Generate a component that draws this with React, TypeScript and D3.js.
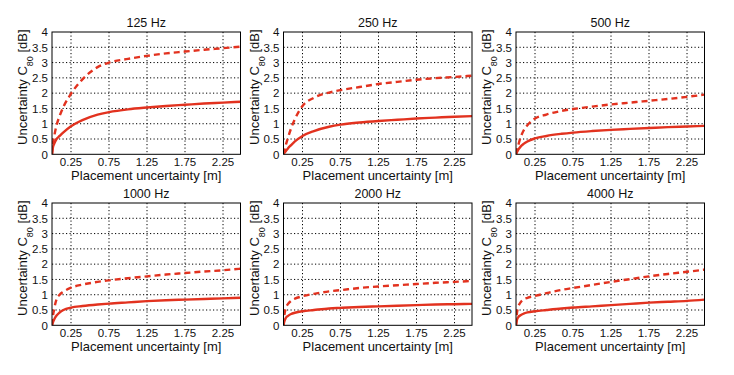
import React from "react";
import * as d3 from "d3";

const xs = [0, 0.01, 0.03, 0.06, 0.1, 0.15, 0.25, 0.4, 0.6, 0.75, 1.0, 1.25, 1.5, 1.75, 2.0, 2.25, 2.48];

const titles = ["125 Hz", "250 Hz", "500 Hz", "1000 Hz", "2000 Hz", "4000 Hz"];

const solid125 = [0, 0.2, 0.35, 0.5, 0.6, 0.72, 0.92, 1.12, 1.3, 1.38, 1.47, 1.53, 1.58, 1.62, 1.66, 1.69, 1.72];
const dashed125 = [0, 0.3, 0.6, 0.95, 1.25, 1.55, 1.98, 2.45, 2.85, 3.0, 3.12, 3.22, 3.3, 3.36, 3.42, 3.47, 3.52];
const solid250 = [0, 0.04, 0.1, 0.2, 0.3, 0.42, 0.6, 0.76, 0.9, 0.97, 1.04, 1.09, 1.13, 1.17, 1.2, 1.23, 1.25];
const dashed250 = [0, 0.1, 0.3, 0.55, 0.85, 1.15, 1.58, 1.85, 2.02, 2.1, 2.2, 2.3, 2.37, 2.44, 2.49, 2.53, 2.57];
const solid500 = [0, 0.06, 0.15, 0.25, 0.34, 0.42, 0.52, 0.6, 0.67, 0.71, 0.76, 0.8, 0.83, 0.86, 0.89, 0.91, 0.93];
const dashed500 = [0, 0.12, 0.3, 0.55, 0.78, 0.95, 1.17, 1.3, 1.42, 1.48, 1.56, 1.63, 1.69, 1.75, 1.81, 1.88, 1.95];
const solid1000 = [0, 0.08, 0.2, 0.32, 0.42, 0.5, 0.58, 0.63, 0.68, 0.71, 0.75, 0.79, 0.82, 0.84, 0.86, 0.88, 0.9];
const dashed1000 = [0, 0.25, 0.55, 0.85, 1.0, 1.1, 1.23, 1.33, 1.42, 1.47, 1.54, 1.6, 1.66, 1.71, 1.76, 1.8, 1.85];
const solid2000 = [0, 0.12, 0.24, 0.31, 0.37, 0.41, 0.46, 0.5, 0.55, 0.57, 0.6, 0.62, 0.64, 0.66, 0.68, 0.69, 0.7];
const dashed2000 = [0, 0.3, 0.55, 0.7, 0.8, 0.87, 0.95, 1.03, 1.11, 1.15, 1.22, 1.27, 1.31, 1.35, 1.39, 1.42, 1.45];
const solid4000 = [0, 0.15, 0.27, 0.33, 0.38, 0.42, 0.46, 0.5, 0.55, 0.58, 0.62, 0.66, 0.7, 0.74, 0.77, 0.8, 0.84];
const dashed4000 = [0, 0.35, 0.6, 0.75, 0.85, 0.9, 0.96, 1.05, 1.16, 1.22, 1.32, 1.42, 1.51, 1.6, 1.68, 1.75, 1.82];

const solidSeries = [solid125, solid250, solid500, solid1000, solid2000, solid4000];
const dashedSeries = [dashed125, dashed250, dashed500, dashed1000, dashed2000, dashed4000];

const xTicks = [0.25, 0.75, 1.25, 1.75, 2.25];
const yTicks = [0, 0.5, 1, 1.5, 2, 2.5, 3, 3.5, 4];

const colLefts = [52, 283.5, 516];
const rowTops = [32, 203];
const W = 188.5;
const H = 122.3;
const RED = "#e2321f";
const FONT = "Liberation Sans, Arial, sans-serif";

function Panel({ idx }: { idx: number }) {
  const col = idx % 3;
  const row = Math.floor(idx / 3);
  const left = colLefts[col];
  const top = rowTops[row];
  const x = d3.scaleLinear().domain([0, 2.48]).range([0, W]);
  const y = d3.scaleLinear().domain([0, 4]).range([H, 0]);
  const line = d3
    .line<number>()
    .x((_, i) => x(xs[i]))
    .y((d) => y(d))
    .curve(d3.curveMonotoneX);
  return (
    <g transform={`translate(${left},${top})`}>
      <rect x={0} y={0} width={W} height={H} fill="white" />
      {xTicks.map((t) => (
        <line key={"gx" + t} x1={x(t)} x2={x(t)} y1={0} y2={H} stroke="#000" strokeWidth={1} strokeDasharray="1.2,2.3" />
      ))}
      {yTicks.slice(1, -1).map((t) => (
        <line key={"gy" + t} x1={0} x2={W} y1={y(t)} y2={y(t)} stroke="#000" strokeWidth={1} strokeDasharray="1.2,2.3" />
      ))}
      <defs>
        <clipPath id={"clip" + idx}>
          <rect x={0} y={-2} width={W} height={H + 2} />
        </clipPath>
      </defs>
      <g clipPath={`url(#clip${idx})`}>
        <path d={line(solidSeries[idx]) || ""} fill="none" stroke={RED} strokeWidth={2.4} />
        <path d={line(dashedSeries[idx]) || ""} fill="none" stroke={RED} strokeWidth={2.4} strokeDasharray="6,4" />
      </g>
      <rect x={0} y={0} width={W} height={H} fill="none" stroke="#000" strokeWidth={1} />
      {xTicks.map((t) => (
        <text key={"tx" + t} x={x(t)} y={H + 11.5} textAnchor="middle" fontSize={11.5} fontFamily={FONT} fill="#111">
          {t}
        </text>
      ))}
      {yTicks.map((t) => (
        <text key={"ty" + t} x={-4} y={y(t) + 4.3} textAnchor="end" fontSize={11.5} fontFamily={FONT} fill="#111">
          {t}
        </text>
      ))}
      <text x={W / 2} y={-5} textAnchor="middle" fontSize={12.5} fontFamily={FONT} fill="#111">
        {titles[idx]}
      </text>
      <text x={W / 2} y={H + 25.5} textAnchor="middle" fontSize={13} fontFamily={FONT} fill="#111">
        Placement uncertainty [m]
      </text>
      <text
        transform={`translate(-25,${H / 2 - 6}) rotate(-90)`}
        textAnchor="middle"
        fontSize={13}
        fontFamily={FONT}
        fill="#111"
      >
        Uncertainty C
        <tspan fontSize={9} dy={6}>80</tspan>
        <tspan dy={-6}>{"  [dB]"}</tspan>
      </text>
    </g>
  );
}

export default function App() {
  return (
    <svg width={734} height={375} style={{ position: "absolute", left: 0, top: 0, background: "white" }}>
      <rect x={0} y={0} width={734} height={375} fill="white" />
      {titles.map((_, i) => (
        <Panel key={i} idx={i} />
      ))}
    </svg>
  );
}
